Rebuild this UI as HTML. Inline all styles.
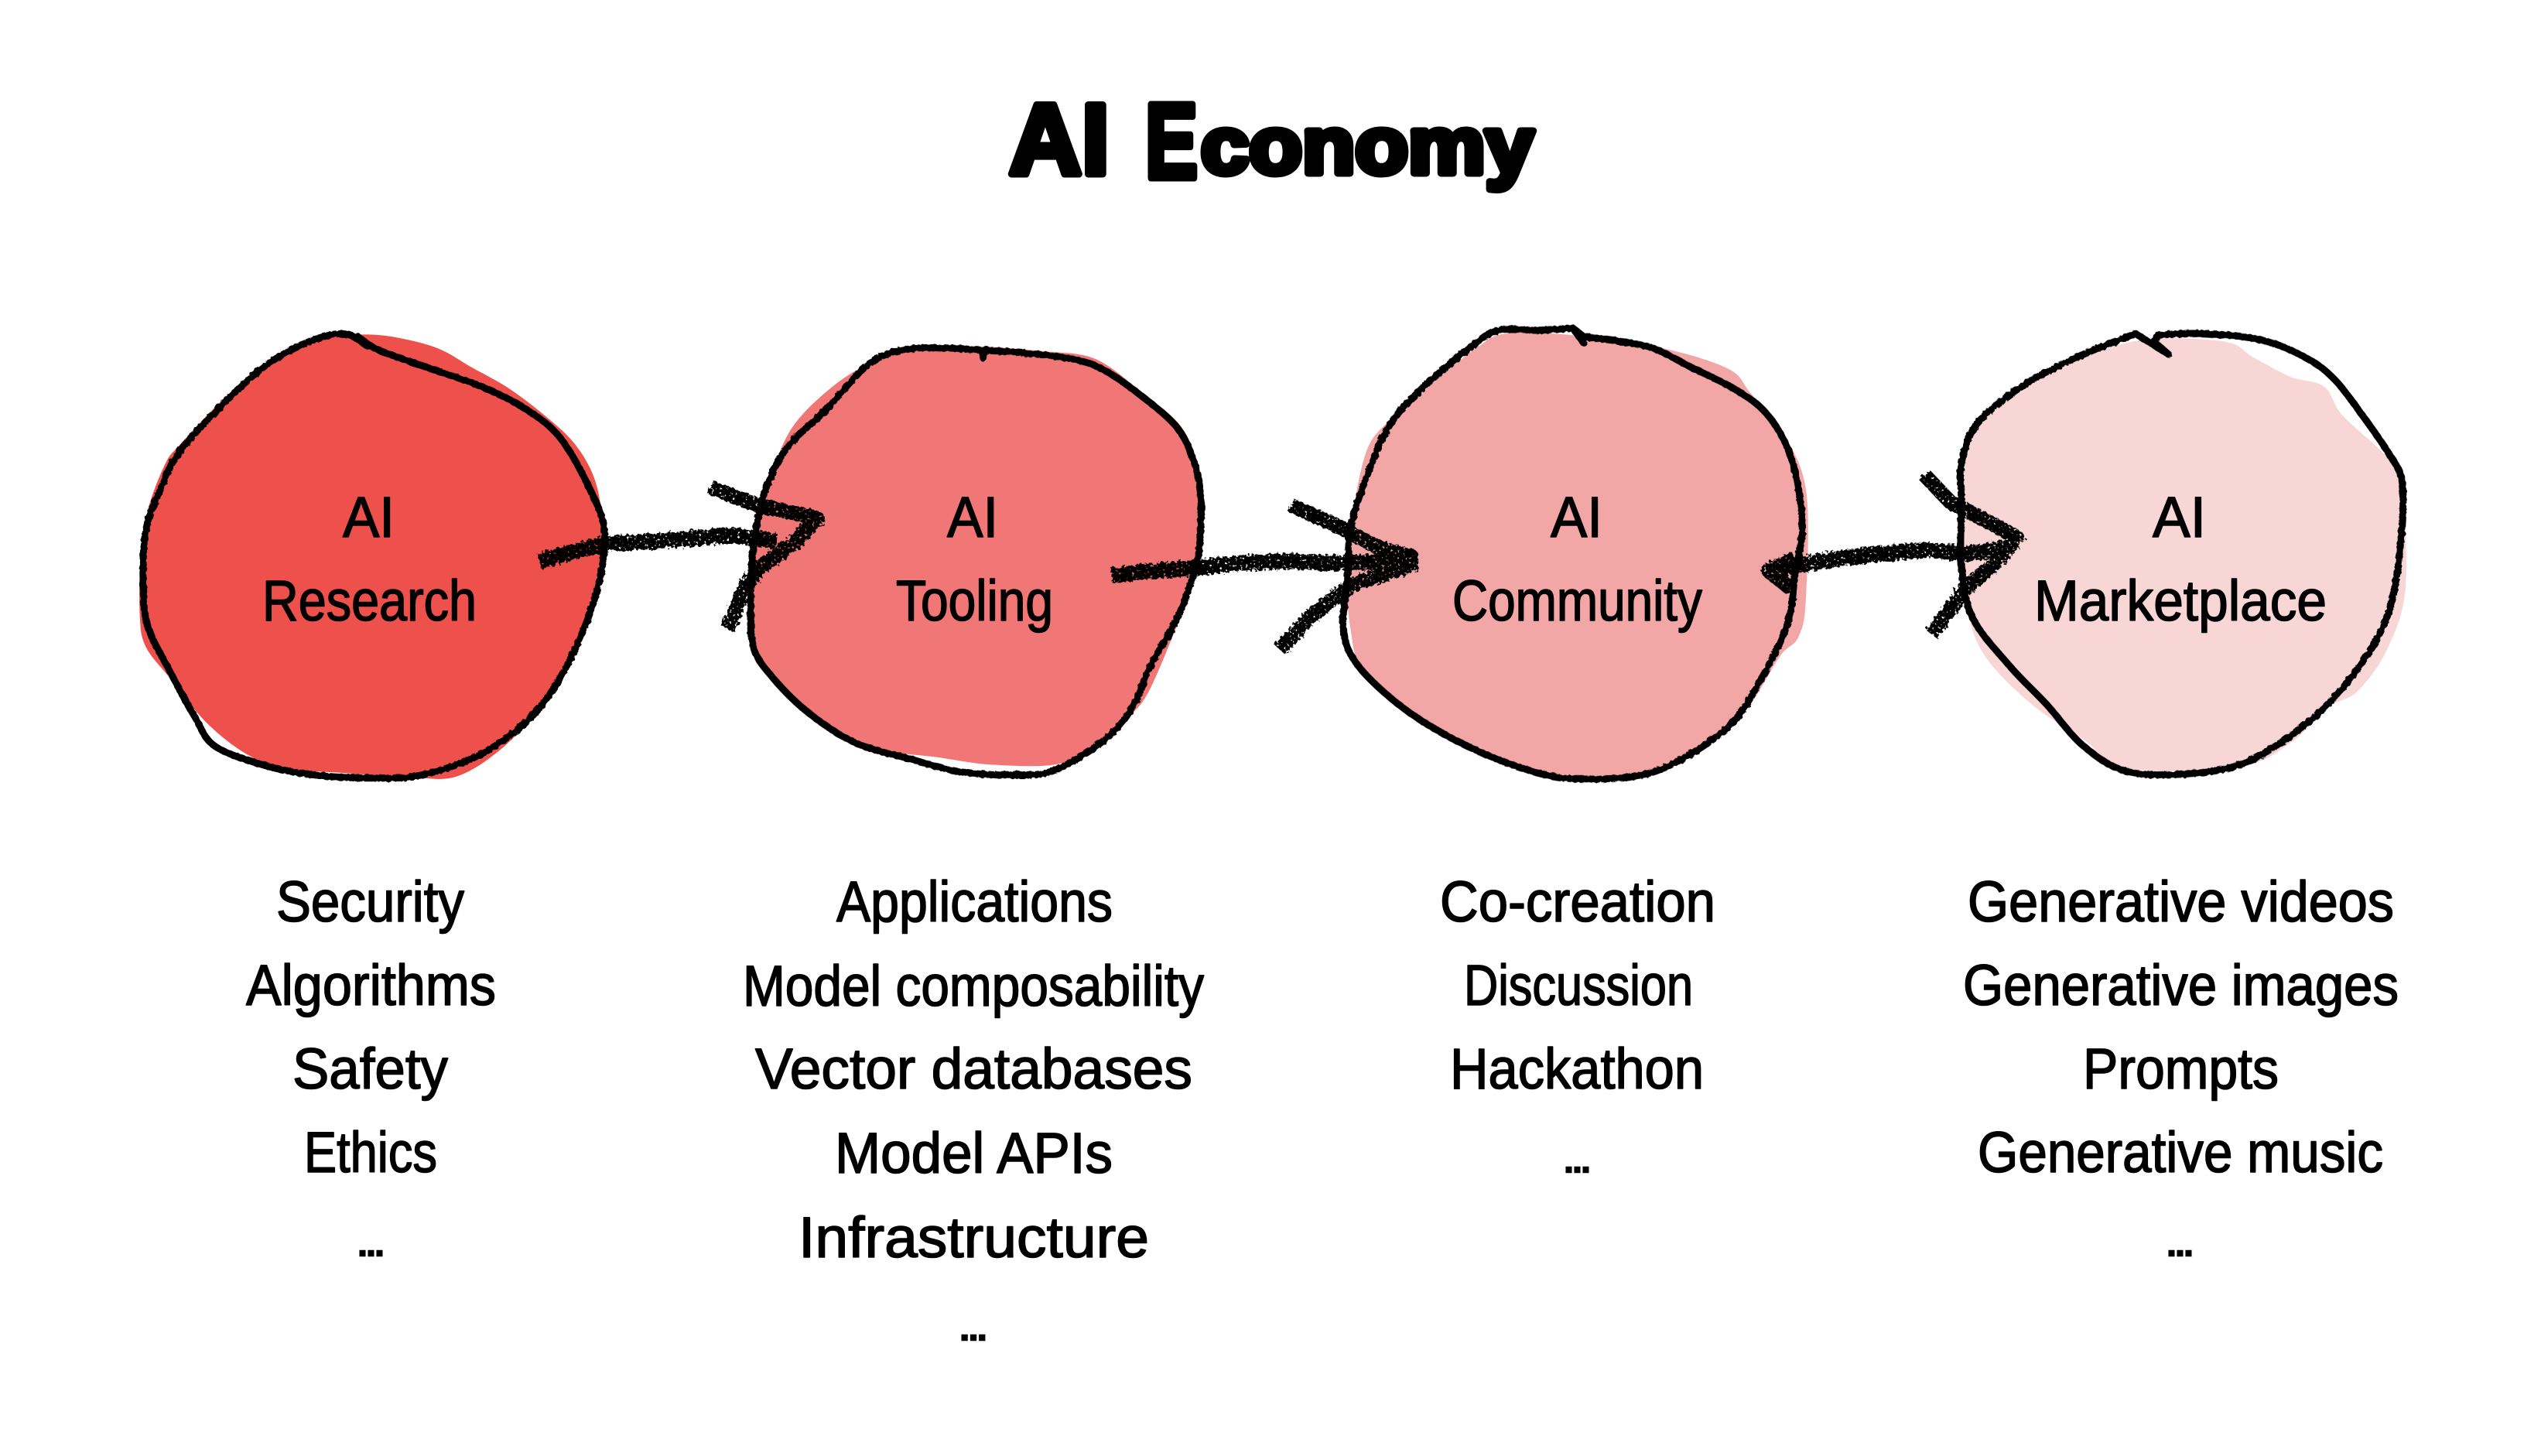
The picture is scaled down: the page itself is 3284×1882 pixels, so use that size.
<!DOCTYPE html>
<html lang="en">
<head>
<meta charset="utf-8">
<title>AI Economy</title>
<style>
html,body{margin:0;padding:0;background:#fff;}
svg{display:block;}
text{font-family:"Liberation Sans","DejaVu Sans",sans-serif;fill:#000;}
.lbl{font-size:74px;stroke:#000;stroke-width:1.6;stroke-linejoin:round;}
.dots{font-size:40px;font-weight:bold;stroke:#000;stroke-width:2.5;}
.line{fill:none;stroke:#000;stroke-width:9;stroke-linejoin:round;stroke-linecap:round;vector-effect:non-scaling-stroke;}
.shaft{fill:none;stroke:#000;stroke-width:20;stroke-linejoin:round;stroke-linecap:butt;vector-effect:non-scaling-stroke;}
.head{fill:none;stroke:#000;stroke-width:19;stroke-linejoin:round;stroke-linecap:butt;vector-effect:non-scaling-stroke;}
</style>
</head>
<body>
<svg xmlns="http://www.w3.org/2000/svg" width="3284" height="1882" viewBox="0 0 3284 1882">
<defs>
<filter id="rough" x="-5%" y="-5%" width="110%" height="110%">
<feTurbulence type="fractalNoise" baseFrequency="0.18" numOctaves="2" seed="4" result="n"/>
<feDisplacementMap in="SourceGraphic" in2="n" scale="4"/>
</filter>
<filter id="charcoal" x="-5%" y="-5%" width="110%" height="110%">
<feTurbulence type="fractalNoise" baseFrequency="0.22" numOctaves="2" seed="9" result="n"/>
<feDisplacementMap in="SourceGraphic" in2="n" scale="9" result="d"/>
<feTurbulence type="fractalNoise" baseFrequency="0.3" numOctaves="2" seed="21" result="m"/>
<feColorMatrix in="m" type="matrix" values="0 0 0 0 0  0 0 0 0 0  0 0 0 0 0  0 0 0 -9 6.8" result="mask"/>
<feComposite in="d" in2="mask" operator="in"/>
</filter>
</defs>
<rect width="3284" height="1882" fill="#ffffff"/>

<text font-weight="bold" stroke="#000" stroke-width="9" stroke-linejoin="round"><tspan x="1304" y="225" font-size="130" textLength="166" lengthAdjust="spacingAndGlyphs">AI </tspan><tspan x="1480" y="230" font-size="138" textLength="68" lengthAdjust="spacingAndGlyphs">E</tspan><tspan x="1552" y="224" font-size="104" textLength="430" lengthAdjust="spacingAndGlyphs">conomy</tspan></text>

<!-- fills -->
<g>
<g transform="translate(150 400) scale(0.6378 0.4149)">
<path class="sm" data-closed="1" fill="#EE514B" data-pts="495,78 560,85 650,120 720,180 800,250 880,345 930,420 965,510 982,610 985,720 975,880 950,1010 910,1130 860,1240 780,1370 690,1455 600,1458 470,1445 350,1430 270,1390 185,1290 110,1150 60,1050 48,950 50,760 65,620 100,480 130,420 210,290 290,180 370,110 440,85"/>
</g>
<g transform="translate(900 400) scale(0.5868 0.4149)">
<path class="sm" data-closed="1" fill="#F07775" data-pts="460,115 620,115 760,130 880,155 990,270 1070,370 1110,520 1115,700 1085,880 1060,980 1000,1180 960,1260 900,1340 800,1415 650,1418 530,1395 400,1370 300,1310 190,1170 125,1050 120,750 160,540 210,370 300,240 390,160"/>
</g>
<g transform="translate(1650 400) scale(0.9566 0.4149)">
<path class="sm" data-closed="1" fill="#F3A6A6" data-pts="310,75 400,80 520,120 610,185 640,260 680,370 715,560 715,900 705,1020 680,1080 640,1230 600,1320 530,1420 470,1450 380,1450 310,1410 230,1320 170,1250 115,1120 100,1000 95,850 100,680 120,450 150,350 210,230 270,120"/>
<path class="sm" data-closed="1" fill="#F7D6D5" data-pts="1170,95 1280,100 1320,150 1370,210 1415,240 1440,330 1500,460 1520,550 1525,870 1500,1060 1460,1190 1420,1240 1370,1350 1300,1425 1150,1430 1090,1340 1020,1230 960,1090 935,960 925,800 930,480 945,370 1000,260 1080,160"/>
</g>
</g>

<!-- outlines -->
<g filter="url(#rough)">
<g transform="translate(150 400) scale(0.6378 0.4149)">
<path class="sm line" data-pts="510,115 470,78 420,85 350,130 290,190 220,290 130,440 90,560 60,690 55,860 65,990 110,1130 160,1270 200,1360 300,1420 400,1450 520,1460 620,1450 740,1385 840,1270 910,1120 970,900 990,700 960,560 900,400 830,310 740,240 610,170 530,125 490,85"/>
</g>
<g transform="translate(900 400) scale(0.5868 0.4149)">
<path class="sm line" data-pts="630,127 720,135 830,155 900,190 990,280 1060,370 1095,470 1110,570 1110,700 1100,800 1060,960 1000,1110 960,1240 900,1340 790,1435 700,1450 580,1440 470,1400 350,1350 250,1260 170,1150 125,1050 120,900 125,750 150,570 200,430 280,320 380,170 460,125 550,120 630,127"/>
<polyline class="line" points="632,152 630,127"/>
</g>
<g transform="translate(1650 400) scale(0.9566 0.4149)">
<path class="sm line" data-pts="400,58 350,65 300,65 260,120 190,260 150,370 120,530 100,680 95,850 90,1000 110,1110 170,1240 240,1340 320,1420 390,1460 480,1455 540,1410 610,1300 650,1170 690,980 700,830 710,690 705,560 690,430 660,320 620,250 560,180 500,115 415,85"/>
<polyline class="line" points="415,105 400,58 415,85"/>
<path class="sm line" data-pts="1190,80 1250,75 1330,95 1390,150 1430,220 1470,340 1500,440 1520,530 1520,680 1510,870 1490,1010 1440,1180 1380,1310 1310,1410 1240,1445 1150,1440 1090,1360 1040,1230 990,1110 940,960 925,800 925,600 925,480 945,360 1000,250 1070,160 1160,75"/>
<polyline class="line" points="1160,75 1205,140 1185,100 1190,80"/>
</g>
</g>

<!-- arrows -->
<g filter="url(#charcoal)">
<g transform="translate(150 400) scale(0.6378 0.4149)">
<path class="sm shaft" data-pts="858,785 980,735 1060,725 1150,715 1250,705 1338,722"/>
<polyline class="head" points="1205,555 1300,610 1420,650 1380,720 1300,810 1270,880 1240,995"/>
</g>
<g transform="translate(900 400) scale(0.5868 0.4149)">
<path class="sm shaft" data-pts="915,830 1000,815 1100,805 1200,790 1320,785 1420,790 1570,780"/>
<polyline class="head" points="1310,610 1420,680 1500,740 1575,770 1575,795 1440,860 1350,960 1285,1060"/>
</g>
<g transform="translate(1650 400) scale(0.9566 0.4149)">
<path class="sm shaft" data-pts="670,815 720,790 800,765 880,750 930,760 990,740"/>
<polyline class="head" points="700,775 665,815 695,870"/>
<polyline class="head" points="875,515 910,600 960,660 1000,710 970,790 930,870 885,1012"/>
</g>
</g>

<!-- labels inside blobs -->
<g>
<text class="lbl" x="443" y="694" textLength="67" lengthAdjust="spacingAndGlyphs">AI</text>
<text class="lbl" x="339" y="802" textLength="277" lengthAdjust="spacingAndGlyphs">Research</text>
<text class="lbl" x="1224" y="694" textLength="66" lengthAdjust="spacingAndGlyphs">AI</text>
<text class="lbl" x="1158" y="802" textLength="203" lengthAdjust="spacingAndGlyphs">Tooling</text>
<text class="lbl" x="2004" y="694" textLength="67" lengthAdjust="spacingAndGlyphs">AI</text>
<text class="lbl" x="1877" y="802" textLength="323" lengthAdjust="spacingAndGlyphs">Community</text>
<text class="lbl" x="2782" y="694" textLength="69" lengthAdjust="spacingAndGlyphs">AI</text>
<text class="lbl" x="2629" y="802" textLength="378" lengthAdjust="spacingAndGlyphs">Marketplace</text>
</g>

<!-- lists -->
<g>
<text class="lbl" x="357" y="1191" textLength="243" lengthAdjust="spacingAndGlyphs">Security</text>
<text class="lbl" x="318" y="1299" textLength="323" lengthAdjust="spacingAndGlyphs">Algorithms</text>
<text class="lbl" x="378" y="1407" textLength="201" lengthAdjust="spacingAndGlyphs">Safety</text>
<text class="lbl" x="393" y="1515" textLength="172" lengthAdjust="spacingAndGlyphs">Ethics</text>
<text class="dots" x="463" y="1623" textLength="33" lengthAdjust="spacingAndGlyphs">...</text>
</g>
<g>
<text class="lbl" x="1081" y="1191" textLength="357" lengthAdjust="spacingAndGlyphs">Applications</text>
<text class="lbl" x="960" y="1300" textLength="596" lengthAdjust="spacingAndGlyphs">Model composability</text>
<text class="lbl" x="976" y="1407" textLength="565" lengthAdjust="spacingAndGlyphs">Vector databases</text>
<text class="lbl" x="1079" y="1516" textLength="359" lengthAdjust="spacingAndGlyphs">Model APIs</text>
<text class="lbl" x="1032" y="1625" textLength="453" lengthAdjust="spacingAndGlyphs">Infrastructure</text>
<text class="dots" x="1241" y="1732" textLength="34" lengthAdjust="spacingAndGlyphs">...</text>
</g>
<g>
<text class="lbl" x="1861" y="1191" textLength="356" lengthAdjust="spacingAndGlyphs">Co-creation</text>
<text class="lbl" x="1892" y="1299" textLength="296" lengthAdjust="spacingAndGlyphs">Discussion</text>
<text class="lbl" x="1874" y="1407" textLength="328" lengthAdjust="spacingAndGlyphs">Hackathon</text>
<text class="dots" x="2022" y="1515" textLength="33" lengthAdjust="spacingAndGlyphs">...</text>
</g>
<g>
<text class="lbl" x="2543" y="1191" textLength="551" lengthAdjust="spacingAndGlyphs">Generative videos</text>
<text class="lbl" x="2537" y="1299" textLength="563" lengthAdjust="spacingAndGlyphs">Generative images</text>
<text class="lbl" x="2692" y="1407" textLength="253" lengthAdjust="spacingAndGlyphs">Prompts</text>
<text class="lbl" x="2556" y="1515" textLength="524" lengthAdjust="spacingAndGlyphs">Generative music</text>
<text class="dots" x="2801" y="1623" textLength="33" lengthAdjust="spacingAndGlyphs">...</text>
</g>
</svg>
<script>
document.querySelectorAll('path.sm').forEach(function (el) {
  var p = el.getAttribute('data-pts').trim().split(/\s+/).map(function (s) { return s.split(',').map(Number); });
  var closed = el.hasAttribute('data-closed'), n = p.length;
  function at(i) { return closed ? p[(i + n) % n] : p[Math.max(0, Math.min(n - 1, i))]; }
  var d = 'M' + p[0][0] + ' ' + p[0][1];
  for (var i = 0; i < (closed ? n : n - 1); i++) {
    var a = at(i - 1), b = at(i), c = at(i + 1), e = at(i + 2);
    d += 'C' + (b[0] + (c[0] - a[0]) / 6).toFixed(1) + ' ' + (b[1] + (c[1] - a[1]) / 6).toFixed(1) + ' '
       + (c[0] - (e[0] - b[0]) / 6).toFixed(1) + ' ' + (c[1] - (e[1] - b[1]) / 6).toFixed(1) + ' ' + c[0] + ' ' + c[1];
  }
  el.setAttribute('d', d + (closed ? 'Z' : ''));
});
</script>
</body>
</html>
